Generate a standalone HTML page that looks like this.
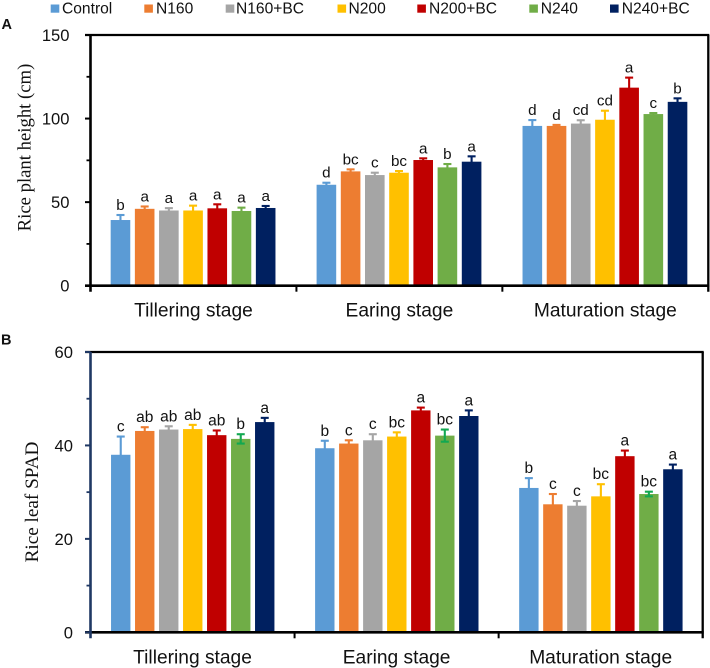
<!DOCTYPE html>
<html lang="en">
<head>
<meta charset="utf-8">
<title>Rice plant height and leaf SPAD</title>
<style>
html,body{margin:0;padding:0;background:#fff;width:710px;height:668px;overflow:hidden}
svg{display:block;font-family:"Liberation Sans",Arial,sans-serif;fill:#111}
.serif{font-family:"Liberation Serif","Times New Roman",serif}
</style>
</head>
<body>
<svg id="figure" xmlns="http://www.w3.org/2000/svg" width="710" height="668" viewBox="0 0 710 668">
  <g font-size="15.6">
    <g><rect x="50.7" y="4.5" width="8.6" height="8.2" fill="#5b9bd5"/><text x="62" y="13.5">Control</text></g>
    <g><rect x="144.3" y="4.5" width="8.6" height="8.2" fill="#ed7d31"/><text x="156" y="13.5">N160</text></g>
    <g><rect x="225.7" y="4.5" width="8.6" height="8.2" fill="#a5a5a5"/><text x="236" y="13.5">N160+BC</text></g>
    <g><rect x="337.5" y="4.5" width="8.6" height="8.2" fill="#ffc000"/><text x="348.5" y="13.5">N200</text></g>
    <g><rect x="417.3" y="4.5" width="8.6" height="8.2" fill="#c00000"/><text x="429" y="13.5">N200+BC</text></g>
    <g><rect x="529.3" y="4.5" width="8.6" height="8.2" fill="#70ad47"/><text x="540.7" y="13.5">N240</text></g>
    <g><rect x="610" y="4.5" width="8.6" height="8.2" fill="#002060"/><text x="621.7" y="13.5">N240+BC</text></g>
  </g>
  <text x="1.5" y="29" font-size="14.5" font-weight="bold">A</text>
  <text x="1" y="344.5" font-size="14.5" font-weight="bold">B</text>
  <text class="serif" font-size="18.7" text-anchor="middle" transform="translate(30.5,147.5) rotate(-90)">Rice plant height (cm)</text>
  <text class="serif" font-size="19.2" text-anchor="middle" transform="translate(38,502) rotate(-90)">Rice leaf SPAD</text>
  <g id="panel-a"></g>
  <g id="panel-b"></g>
</svg>
<script>
const categories = ["Tillering stage", "Earing stage", "Maturation stage"];
const seriesNames = ["control", "n160", "n160-bc", "n200", "n200-bc", "n240", "n240-bc"];
const seriesColors = ["#5b9bd5", "#ed7d31", "#a5a5a5", "#ffc000", "#c00000", "#70ad47", "#002060"];

const heightTicks = [0, 50, 100, 150];
const heightMinorTicks = [25, 75, 125];
const heightMeans = [
  [39.3, 46.0, 45.0, 45.0, 46.3, 44.7, 46.5],
  [60.4, 68.4, 66.2, 67.6, 75.2, 70.8, 74.2],
  [95.6, 95.6, 97.0, 99.3, 118.5, 102.7, 110.0]
];
const heightErrors = [
  [3.0, 1.4, 1.4, 2.9, 2.4, 2.0, 1.2],
  [1.2, 1.2, 1.4, 1.0, 1.0, 2.0, 3.2],
  [3.5, 0.6, 2.0, 5.4, 6.0, 0.6, 2.1]
];
const heightLetters = [
  ["b", "a", "a", "a", "a", "a", "a"],
  ["d", "bc", "c", "bc", "a", "b", "a"],
  ["d", "d", "cd", "cd", "a", "c", "b"]
];

const spadTicks = [0, 20, 40, 60];
const spadMinorTicks = [10, 30, 50];
const spadMeans = [
  [38.0, 43.1, 43.4, 43.5, 42.2, 41.4, 45.0],
  [39.4, 40.4, 41.1, 41.9, 47.5, 42.1, 46.3],
  [30.9, 27.4, 27.1, 29.1, 37.7, 29.6, 34.9]
];
const spadErrors = [
  [3.9, 0.8, 0.7, 0.9, 1.0, 1.0, 0.9],
  [1.6, 0.7, 1.3, 0.9, 0.6, 1.3, 1.2],
  [2.1, 2.2, 1.0, 2.6, 1.2, 0.5, 1.0]
];
const spadLetters = [
  ["c", "ab", "ab", "ab", "ab", "b", "a"],
  ["b", "c", "c", "bc", "a", "bc", "a"],
  ["b", "c", "c", "bc", "a", "bc", "a"]
];

const NS = "http://www.w3.org/2000/svg";

function make(parent, tag, attrs, text) {
  const el = document.createElementNS(NS, tag);
  for (const k in attrs) el.setAttribute(k, attrs[k]);
  if (text !== undefined) el.textContent = text;
  parent.appendChild(el);
  return el;
}

function drawPanel(cfg) {
  const root = document.getElementById(cfg.id);
  const maxTick = cfg.ticks[cfg.ticks.length - 1];
  const yScale = v => cfg.bottom - (v / maxTick) * (cfg.bottom - cfg.top);
  const groupWidth = (cfg.right - cfg.left) / categories.length;
  const xScale = (g, s) => cfg.left + groupWidth * (g + 0.5) + (s - 3) * cfg.pitch + cfg.shift;

  cfg.means.forEach((group, g) => {
    group.forEach((mean, s) => {
      const cx = xScale(g, s);
      const top = yScale(mean);
      const errTop = yScale(mean + cfg.errors[g][s]);
      const errBot = yScale(mean - cfg.errors[g][s]);
      const color = seriesColors[s];
      const isGreen = seriesNames[s] === "n240";
      const errColor = isGreen && cfg.id === "panel-b" ? "#12a851" : color;

      const err = make(root, "g", {stroke: errColor, "stroke-width": 2.1, fill: "none"});
      
      
      make(err, "line", {x1: cx, x2: cx, y1: errTop, y2: top + 1});
      make(err, "line", {x1: cx - 4, x2: cx + 4, y1: errTop, y2: errTop});

      const bar = make(root, "rect", {x: cx - cfg.barWidth / 2, y: top, width: cfg.barWidth, height: cfg.bottom - top, fill: color});
      
      

      if (isGreen && cfg.id === "panel-b") {
        const lower = make(root, "g", {stroke: errColor, "stroke-width": 2.1, fill: "none"});
        
        
        make(lower, "line", {x1: cx, x2: cx, y1: top, y2: errBot});
        make(lower, "line", {x1: cx - 4, x2: cx + 4, y1: errBot, y2: errBot});
      }

      const letter = make(root, "text", {x: cx, y: errTop - cfg.letterGap, "font-size": cfg.letterSize, "text-anchor": "middle"}, cfg.letters[g][s]);
      
      
    });
  });

  const frame = make(root, "g", {stroke: "#000", fill: "none"});
  
  
  make(frame, "line", {x1: cfg.left - 5.5, x2: cfg.right + 1, y1: cfg.top, y2: cfg.top, "stroke-width": 2.3});
  make(frame, "line", {x1: cfg.right, x2: cfg.right, y1: cfg.top, y2: cfg.bottom + 6, "stroke-width": 2.3});
  make(frame, "line", {x1: cfg.left - 5.5, x2: cfg.right + 1, y1: cfg.bottom, y2: cfg.bottom, "stroke-width": 2.6});

  const yAxis = make(root, "g", {stroke: cfg.axisColor, fill: "none"});
  
  
  make(yAxis, "line", {x1: cfg.left, x2: cfg.left, y1: cfg.top, y2: cfg.bottom + 6, "stroke-width": 2.6});
  cfg.minorTicks.forEach(t => {
    make(yAxis, "line", {x1: cfg.left - 4, x2: cfg.left, y1: yScale(t), y2: yScale(t), "stroke-width": 1.8});
  });
  cfg.ticks.forEach(t => {
    make(yAxis, "line", {x1: cfg.left - 5.5, x2: cfg.left, y1: yScale(t), y2: yScale(t), "stroke-width": 2});
    const label = make(root, "text", {x: cfg.left - cfg.tickGap, y: yScale(t) + 6, "font-size": 16.6, "text-anchor": "end"}, t);
    
    
  });

  categories.forEach((name, g) => {
    if (g > 0) {
      const x = cfg.left + groupWidth * g;
      const tick = make(root, "line", {x1: x, x2: x, y1: cfg.bottom, y2: cfg.bottom + 6, stroke: "#000", "stroke-width": 2});
      
      
    }
    const label = make(root, "text", {x: cfg.left + groupWidth * (g + 0.5), y: cfg.bottom + 31, "font-size": 19.2, "text-anchor": "middle"}, name);
    
    
  });
}

drawPanel({
  id: "panel-a", top: 35, bottom: 285.7, left: 90.5, right: 708.3, pitch: 24.2, barWidth: 19.6, shift: -0.4,
  ticks: heightTicks, minorTicks: heightMinorTicks, means: heightMeans, errors: heightErrors, letters: heightLetters,
  axisColor: "#000", tickGap: 21, letterGap: 5, letterSize: 15.2
});
drawPanel({
  id: "panel-b", top: 352, bottom: 632.3, left: 90.5, right: 702.7, pitch: 24, barWidth: 19.4, shift: 0.2,
  ticks: spadTicks, minorTicks: spadMinorTicks, means: spadMeans, errors: spadErrors, letters: spadLetters,
  axisColor: "#1f3864", tickGap: 17.5, letterGap: 5, letterSize: 15.5
});
</script>
</body>
</html>
